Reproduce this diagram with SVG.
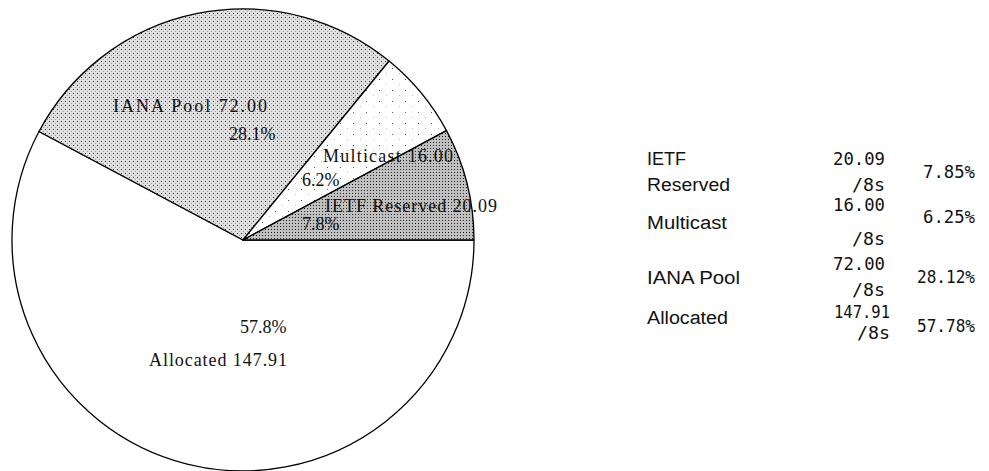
<svg xmlns="http://www.w3.org/2000/svg" width="989" height="471" viewBox="0 0 989 471">
<style>
.slice{stroke:#000;stroke-width:1.3;stroke-linejoin:round}
.pl{font-family:"Liberation Serif","Times New Roman",serif;font-size:18px;fill:#111}
.ln{font-family:"Liberation Sans",Arial,sans-serif;font-size:18px;fill:#111}
.nm{font-family:"DejaVu Sans Mono","Liberation Mono",monospace;font-size:17px;fill:#111}
</style>
<defs>
<pattern id="pIETF" width="3" height="3" patternUnits="userSpaceOnUse">
<rect width="3" height="3" fill="#c0c0c0"/>
<rect x="1" y="1" width="1" height="1" fill="#202020"/>
</pattern>
<pattern id="pIANA" width="4" height="4" patternUnits="userSpaceOnUse">
<rect width="4" height="4" fill="#e0e0e0"/>
<rect x="1" y="1" width="1" height="1" fill="#303030"/>
<rect x="3" y="3" width="1" height="1" fill="#999"/>
</pattern>
<pattern id="pMC" width="13" height="11" patternUnits="userSpaceOnUse">
<rect width="13" height="11" fill="#fff"/>
<rect x="2" y="2" width="1" height="1" fill="#555"/>
<rect x="9" y="7" width="1" height="1" fill="#bbb"/>
</pattern>
</defs>
<g id="pie">
<g id="slice-allocated"><path class="slice" fill="#fff" d="M243,240 L39,131.5 A231,231 0 1 0 474,240 Z"/></g>
<g id="slice-iana"><path class="slice" fill="url(#pIANA)" d="M243,240 L389.1,61 A231,231 0 0 0 39,131.5 Z"/></g>
<g id="slice-multicast"><path class="slice" fill="url(#pMC)" d="M243,240 L446.5,130.6 A231,231 0 0 0 389.1,61 Z"/></g>
<g id="slice-ietf"><path class="slice" fill="url(#pIETF)" d="M243,240 L474,240 A231,231 0 0 0 446.5,130.6 Z"/></g>
</g>
<g id="pie-labels">
<text class="pl" x="113" y="112" textLength="154" lengthAdjust="spacing">IANA  Pool  72.00</text>
<text class="pl" x="229" y="140">28.1%</text>
<text class="pl" x="323" y="162" textLength="130" lengthAdjust="spacing">Multicast  16.00</text>
<text class="pl" x="302" y="186">6.2%</text>
<text class="pl" x="325" y="212" textLength="172" lengthAdjust="spacing">IETF  Reserved  20.09</text>
<text class="pl" x="302" y="230">7.8%</text>
<text class="pl" x="240" y="333">57.8%</text>
<text class="pl" x="149" y="366" textLength="138" lengthAdjust="spacing">Allocated  147.91</text>
</g>
<g id="legend">
<g id="row-ietf">
<text class="ln" x="647" y="165">IETF</text>
<text class="ln" x="647" y="191" textLength="83" lengthAdjust="spacingAndGlyphs">Reserved</text>
<text class="nm" x="833" y="165" textLength="52" lengthAdjust="spacingAndGlyphs">20.09</text>
<text class="nm" x="852" y="191" textLength="33" lengthAdjust="spacingAndGlyphs">/8s</text>
<text class="nm" x="923" y="178" textLength="52" lengthAdjust="spacingAndGlyphs">7.85%</text>
</g>
<g id="row-multicast">
<text class="ln" x="647" y="229" textLength="80" lengthAdjust="spacingAndGlyphs">Multicast</text>
<text class="nm" x="833" y="211" textLength="52" lengthAdjust="spacingAndGlyphs">16.00</text>
<text class="nm" x="852" y="245" textLength="33" lengthAdjust="spacingAndGlyphs">/8s</text>
<text class="nm" x="923" y="223" textLength="52" lengthAdjust="spacingAndGlyphs">6.25%</text>
</g>
<g id="row-iana">
<text class="ln" x="647" y="284" textLength="93" lengthAdjust="spacingAndGlyphs">IANA Pool</text>
<text class="nm" x="833" y="270" textLength="52" lengthAdjust="spacingAndGlyphs">72.00</text>
<text class="nm" x="852" y="296" textLength="33" lengthAdjust="spacingAndGlyphs">/8s</text>
<text class="nm" x="917" y="283" textLength="58" lengthAdjust="spacingAndGlyphs">28.12%</text>
</g>
<g id="row-allocated">
<text class="ln" x="647" y="324" textLength="81" lengthAdjust="spacingAndGlyphs">Allocated</text>
<text class="nm" x="834" y="318" textLength="56" lengthAdjust="spacingAndGlyphs">147.91</text>
<text class="nm" x="857" y="339" textLength="33" lengthAdjust="spacingAndGlyphs">/8s</text>
<text class="nm" x="917" y="332" textLength="58" lengthAdjust="spacingAndGlyphs">57.78%</text>
</g>
</g>
</svg>
